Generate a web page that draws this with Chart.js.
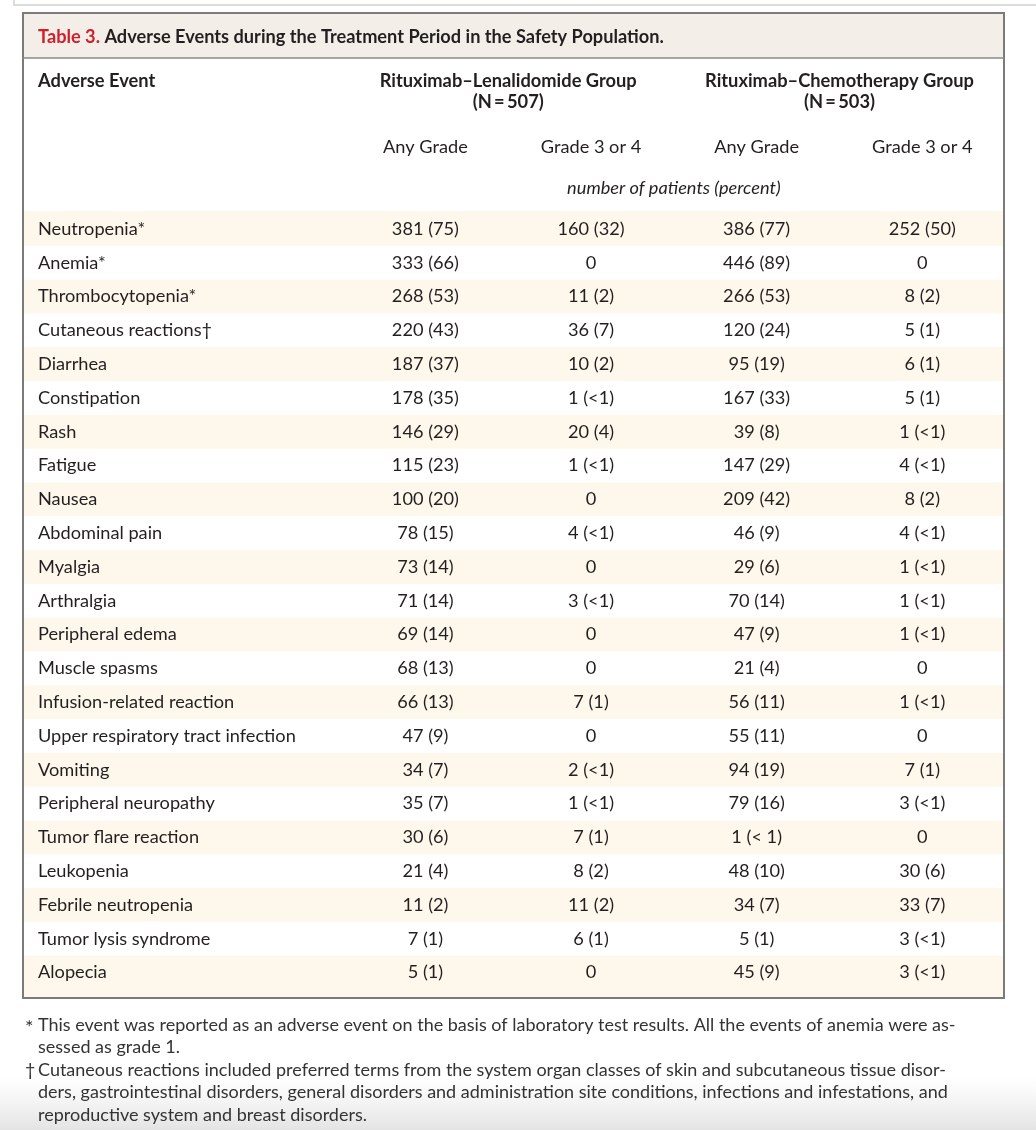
<!DOCTYPE html>
<html>
<head>
<meta charset="utf-8">
<script src="https://cdn.jsdelivr.net/npm/chart.js@4.4.1/dist/chart.umd.min.js"></script>
<style>
  html, body { margin: 0; padding: 0; background: #ffffff; }
  canvas { display: block; }
</style>
</head>
<body>
<canvas id="tabela" width="1036" height="1130"></canvas>
<script>
// linhas da tabela
const events = ["Neutropenia*", "Anemia*", "Thrombocytopenia*", "Cutaneous reactions\u2020", "Diarrhea",
  "Constipation", "Rash", "Fatigue", "Nausea", "Abdominal pain", "Myalgia", "Arthralgia",
  "Peripheral edema", "Muscle spasms", "Infusion-related reaction", "Upper respiratory tract infection",
  "Vomiting", "Peripheral neuropathy", "Tumor flare reaction", "Leukopenia", "Febrile neutropenia",
  "Tumor lysis syndrome", "Alopecia"];

// colunas: rituximab-lenalidomida
const lenAny = ["381 (75)", "333 (66)", "268 (53)", "220 (43)", "187 (37)", "178 (35)", "146 (29)",
  "115 (23)", "100 (20)", "78 (15)", "73 (14)", "71 (14)", "69 (14)", "68 (13)", "66 (13)", "47 (9)",
  "34 (7)", "35 (7)", "30 (6)", "21 (4)", "11 (2)", "7 (1)", "5 (1)"];
const lenG34 = ["160 (32)", "0", "11 (2)", "36 (7)", "10 (2)", "1 (<1)", "20 (4)", "1 (<1)", "0",
  "4 (<1)", "0", "3 (<1)", "0", "0", "7 (1)", "0", "2 (<1)", "1 (<1)", "7 (1)", "8 (2)", "11 (2)",
  "6 (1)", "0"];

// colunas: rituximab-quimioterapia
const chemoAny = ["386 (77)", "446 (89)", "266 (53)", "120 (24)", "95 (19)", "167 (33)", "39 (8)",
  "147 (29)", "209 (42)", "46 (9)", "29 (6)", "70 (14)", "47 (9)", "21 (4)", "56 (11)", "55 (11)",
  "94 (19)", "79 (16)", "1 (< 1)", "48 (10)", "34 (7)", "5 (1)", "45 (9)"];
const chemoG34 = ["252 (50)", "0", "8 (2)", "5 (1)", "6 (1)", "5 (1)", "1 (<1)", "4 (<1)", "8 (2)",
  "4 (<1)", "1 (<1)", "1 (<1)", "1 (<1)", "0", "1 (<1)", "0", "7 (1)", "3 (<1)", "0", "30 (6)",
  "33 (7)", "3 (<1)", "3 (<1)"];

const groups = ["Rituximab\u2013Lenalidomide Group", "Rituximab\u2013Chemotherapy Group"];
const groupN = ["(N\u2009=\u2009507)", "(N\u2009=\u2009503)"];
const gradeLabels = ["Any Grade", "Grade 3 or 4", "Any Grade", "Grade 3 or 4"];

const footnotes = [
  ["*", "This event was reported as an adverse event on the basis of laboratory test results. All the events of anemia were as-"],
  ["", "sessed as grade 1."],
  ["\u2020", "Cutaneous reactions included preferred terms from the system organ classes of skin and subcutaneous tissue disor-"],
  ["", "ders, gastrointestinal disorders, general disorders and administration site conditions, infections and infestations, and"],
  ["", "reproductive system and breast disorders."]
];

const colunas = [lenAny, lenG34, chemoAny, chemoG34];

const FONTE = "Lato, 'Open Sans', sans-serif";
const caixa = { left: 23, right: 1004, top: 13, title: 58, body: 211, bottom: 998 };

const desenhaTabela = {
  id: "desenhaTabela",
  beforeDraw(chart) {
    const ctx = chart.ctx;
    const y = chart.scales.y;
    ctx.save();
    ctx.fillStyle = "#ffffff";
    ctx.fillRect(0, 0, chart.width, chart.height);

    // sombra cinza no rodape
    const grad = ctx.createLinearGradient(0, 1078, 0, 1130);
    grad.addColorStop(0, "rgba(232,232,232,0)");
    grad.addColorStop(1, "rgba(228,228,228,1)");
    ctx.fillStyle = grad;
    ctx.fillRect(0, 1078, chart.width, 52);

    // linha cinza no topo
    ctx.fillStyle = "#dcdcdc";
    ctx.fillRect(13, 4, chart.width - 13, 2);
    ctx.fillRect(13, 0, 2, 5);

    // faixa do titulo
    ctx.fillStyle = "#f3efe8";
    ctx.fillRect(caixa.left, caixa.top, caixa.right - caixa.left, caixa.title - caixa.top);

    // corpo em creme, linhas impares em branco
    ctx.fillStyle = "#fdf8eb";
    ctx.fillRect(caixa.left, caixa.body, caixa.right - caixa.left, caixa.bottom - caixa.body);
    const passo = y.getPixelForValue(1) - y.getPixelForValue(0);
    ctx.fillStyle = "#ffffff";
    events.forEach((ev, i) => {
      if (i % 2 === 1) {
        const cy = y.getPixelForValue(i);
        ctx.fillRect(caixa.left, cy - passo / 2, caixa.right - caixa.left, passo);
      }
    });
    ctx.restore();
  },
  afterDatasetsDraw(chart) {
    const ctx = chart.ctx;
    const x = chart.scales.x;
    const y = chart.scales.y;
    ctx.save();
    ctx.fillStyle = "#231f20";
    ctx.textBaseline = "middle";
    ctx.font = "18.2px " + FONTE;

    // nomes dos eventos
    ctx.textAlign = "left";
    events.forEach((ev, i) => {
      ctx.fillText(ev, 38, y.getPixelForValue(i));
    });

    // celulas a partir dos pontos de cada dataset
    ctx.textAlign = "center";
    chart.data.datasets.forEach((ds, d) => {
      const meta = chart.getDatasetMeta(d);
      meta.data.forEach((pt, i) => {
        ctx.fillText(colunas[d][i], pt.x, pt.y);
      });
    });

    // cabecalho
    ctx.textAlign = "left";
    ctx.font = "bold 18.3px " + FONTE;
    ctx.fillText("Adverse Event", 38, 81);
    ctx.textAlign = "center";
    groups.forEach((g, k) => {
      const cx = x.getPixelForValue(1.5 + 2 * k);
      ctx.fillText(g, cx, 81);
      ctx.fillText(groupN[k], cx, 102);
    });
    ctx.font = "18.2px " + FONTE;
    gradeLabels.forEach((g, k) => {
      ctx.fillText(g, x.getPixelForValue(k + 1), 147);
    });
    ctx.font = "italic 18.2px " + FONTE;
    ctx.fillText("number of patients (percent)", x.getPixelForValue(2.5), 188);

    // titulo
    ctx.textAlign = "left";
    ctx.font = "bold 18.2px " + FONTE;
    ctx.fillStyle = "#d0202e";
    ctx.fillText("Table 3.", 38, 37);
    const w = ctx.measureText("Table 3. ").width;
    ctx.fillStyle = "#231f20";
    ctx.fillText("Adverse Events during the Treatment Period in the Safety Population.", 38 + w, 37);

    // bordas da caixa
    ctx.strokeStyle = "#7b7b7b";
    ctx.lineWidth = 2;
    ctx.strokeRect(caixa.left, caixa.top, caixa.right - caixa.left, caixa.bottom - caixa.top);
    ctx.lineWidth = 1.5;
    ctx.strokeStyle = "#8a8a8a";
    ctx.beginPath();
    ctx.moveTo(caixa.left, caixa.title);
    ctx.lineTo(caixa.right, caixa.title);
    ctx.stroke();

    // notas de rodape
    ctx.fillStyle = "#333333";
    footnotes.forEach((f, k) => {
      const ly = 1025 + k * 22.5;
      if (f[0]) {
        ctx.font = (f[0] === "*" ? "20px " : "18px ") + FONTE;
        ctx.fillText(f[0], 25, ly + (f[0] === "*" ? 3 : 0));
      }
      ctx.font = "18px " + FONTE;
      ctx.fillText(f[1], 38, ly);
    });
    ctx.restore();
  }
};

new Chart(document.getElementById("tabela"), {
  type: "scatter",
  data: {
    datasets: colunas.map((col, c) => ({
      label: gradeLabels[c],
      data: events.map((ev, i) => ({ x: c + 1, y: ev })),
      pointRadius: 0,
      pointHoverRadius: 0
    }))
  },
  options: {
    responsive: false,
    animation: false,
    events: [],
    layout: { padding: { left: 342.6, right: 1036 - 1005.1, top: 212, bottom: 1130 - 989.5 } },
    plugins: { legend: { display: false }, tooltip: { enabled: false } },
    scales: {
      x: { type: "linear", min: 0.5, max: 4.5, display: false },
      y: { type: "category", labels: events, offset: true, display: false }
    }
  },
  plugins: [desenhaTabela]
});
</script>
</body>
</html>
